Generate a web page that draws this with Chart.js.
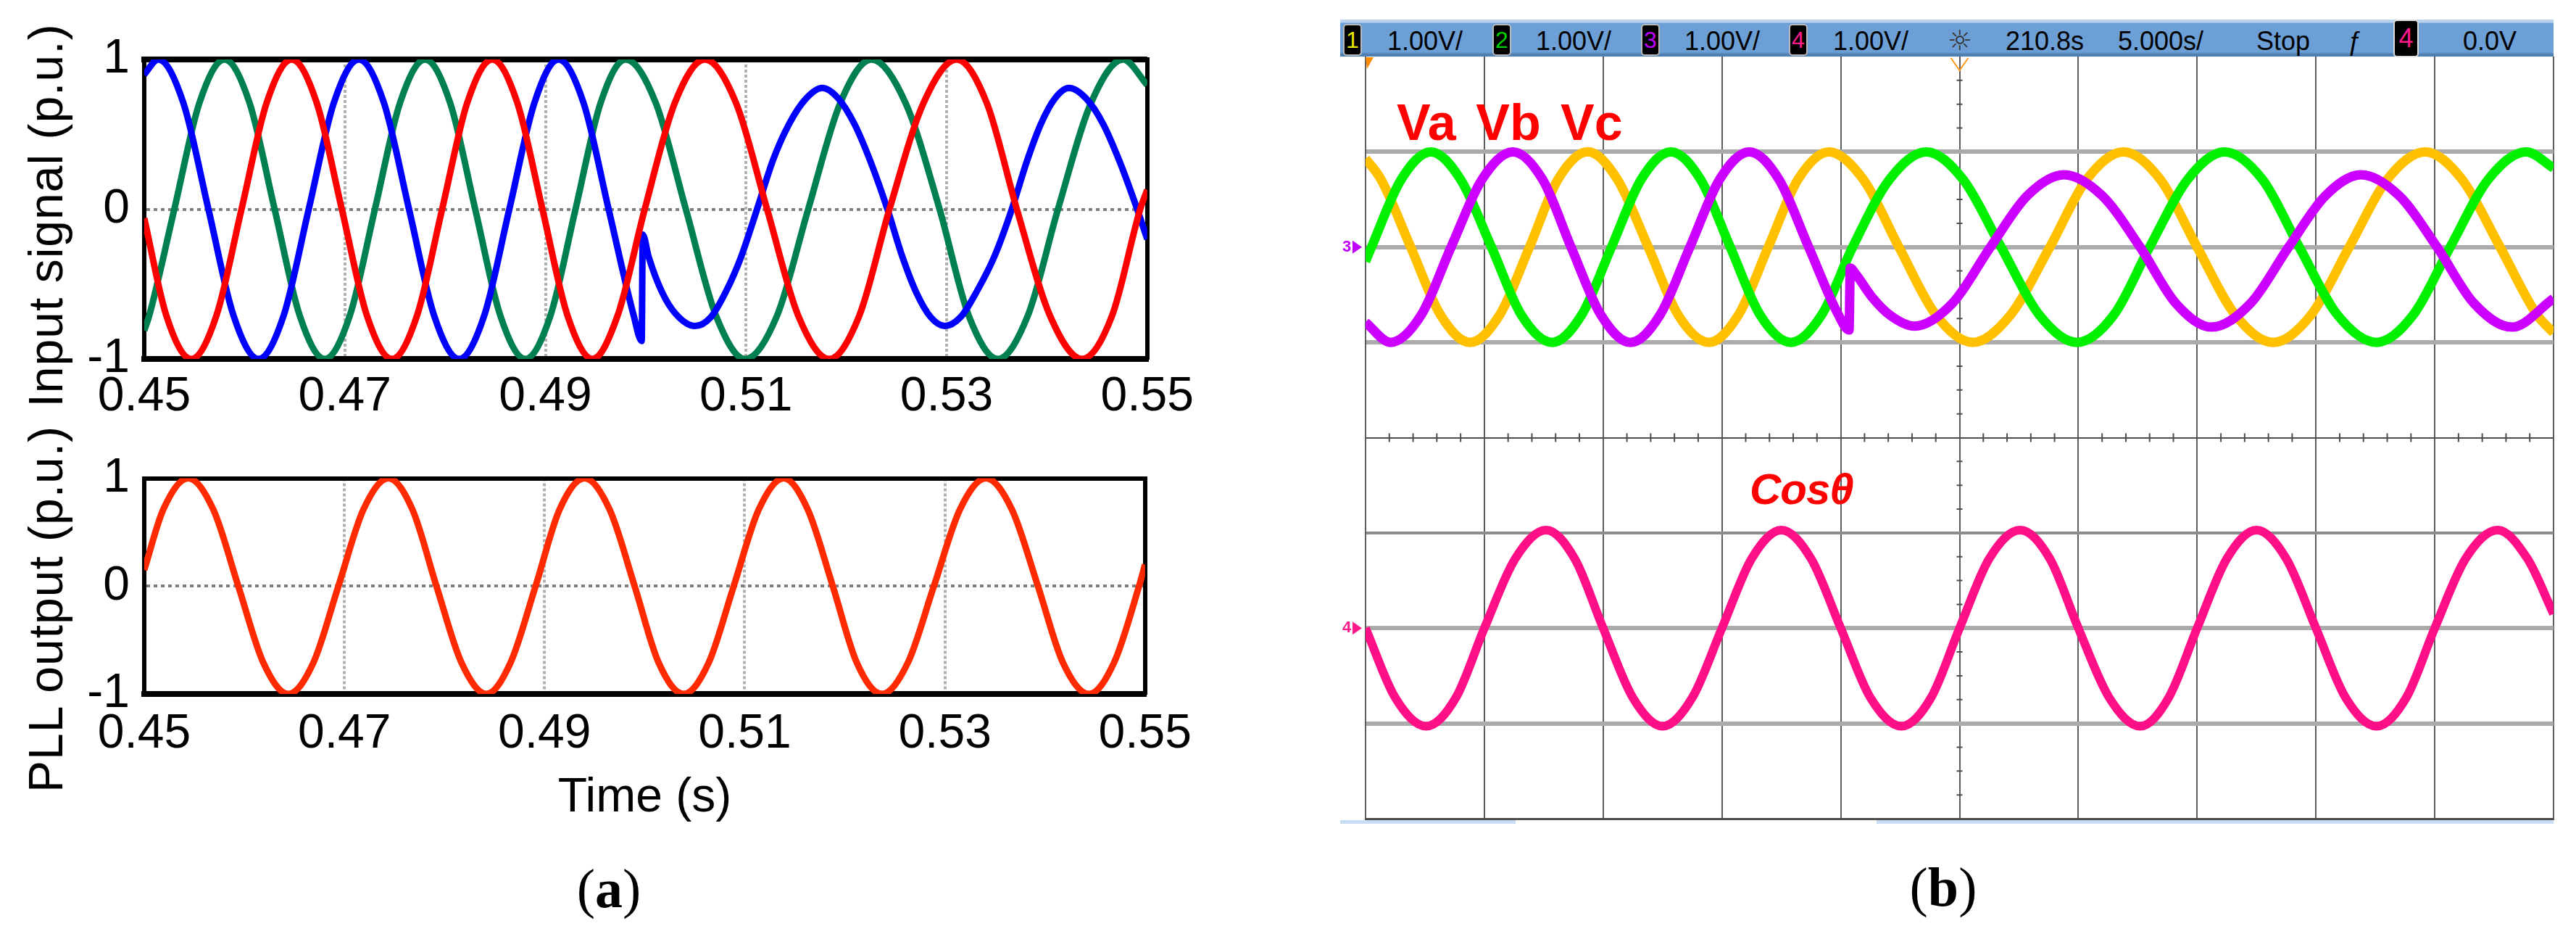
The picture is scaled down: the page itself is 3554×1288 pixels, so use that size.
<!DOCTYPE html>
<html>
<head>
<meta charset="utf-8">
<title>PLL input signal and output</title>
<script src="https://cdn.jsdelivr.net/npm/chart.js@4.4.1/dist/chart.umd.min.js"></script>
<style>
  html, body { margin: 0; padding: 0; background: #fff; }
  #page { position: relative; width: 3554px; height: 1288px; overflow: hidden; font-family: 'Liberation Sans', Arial, sans-serif; }
  #page canvas { position: absolute; }
  .ytitle { position: absolute; white-space: nowrap; font-size: 66px; letter-spacing: 1px; line-height: 1; color: #000; transform: translate(-50%, -50%) rotate(-90deg); }
  .caption { position: absolute; font-family: 'Liberation Serif', 'Times New Roman', serif; font-size: 76px; line-height: 1; color: #000; transform: translate(-50%, -50%); }
  #bar { position: absolute; left: 1849px; top: 27px; width: 1674px; height: 51px; z-index: 2;
         background: linear-gradient(to bottom, #b9d2ee 0px, #b9d2ee 4px, #6c9fd5 5px, #6c9fd5 45px, #4f7eb2 48px, #4f7eb2 51px); }
  #bar span { position: absolute; white-space: nowrap; }
  .bt { top: 4px; height: 51px; line-height: 51px; font-size: 36px; color: #000; }
  .badge { top: 6px; width: 22px; height: 40px; line-height: 40px; text-align: center; font-size: 32px; background: #000; border: 2px solid #b9b9b9; border-radius: 5px; }
  .tag { position: absolute; color: #ff0000; white-space: nowrap; line-height: 1; z-index: 3; }
  .strip { position: absolute; top: 1131px; height: 5px; background: #c7ddf3; }
</style>
</head>
<body>
<div id="page">
  <canvas id="simTop" width="1660" height="600" style="left:0;top:0"></canvas>
  <canvas id="simBottom" width="1660" height="540" style="left:0;top:600px"></canvas>
  <div class="ytitle" style="left:63px;top:297px">Input signal (p.u.)</div>
  <div class="ytitle" style="left:63px;top:840px">PLL output (p.u.)</div>
  <div class="caption" style="left:840px;top:1225px">(<b>a</b>)</div>

  <canvas id="scope" width="1705" height="1140" style="left:1849px;top:0"></canvas>
  <div id="bar">
    <span class="badge" style="left:4px;color:#e6e600">1</span>
    <span class="bt" style="left:65px">1.00V/</span>
    <span class="badge" style="left:210px;color:#00d000">2</span>
    <span class="bt" style="left:270px">1.00V/</span>
    <span class="badge" style="left:415px;color:#c000ff">3</span>
    <span class="bt" style="left:475px">1.00V/</span>
    <span class="badge" style="left:619px;color:#ff1a8c">4</span>
    <span class="bt" style="left:680px">1.00V/</span>
    <span class="bt" style="left:838px;font-family:'DejaVu Sans';font-size:38px;color:#333">☼</span>
    <span class="bt" style="left:918px">210.8s</span>
    <span class="bt" style="left:1073px">5.000s/</span>
    <span class="bt" style="left:1264px">Stop</span>
    <span class="bt" style="left:1390px">ƒ</span>
    <span class="badge" style="left:1453px;top:0;width:31px;height:48px;line-height:48px;font-size:36px;color:#ff1a8c;border-color:#dcdcdc">4</span>
    <span class="bt" style="left:1549px">0.0V</span>
  </div>
  <div class="tag" style="left:1927px;top:134px;font-size:70px;font-weight:bold;word-spacing:8px">Va Vb Vc</div>
  <div class="tag" style="left:2414px;top:645px;font-size:60px;font-weight:bold;font-style:italic;letter-spacing:-1px">Cosθ</div>
  <div class="strip" style="left:1849px;width:242px"></div>
  <div class="strip" style="left:2589px;width:934px"></div>
  <div class="caption" style="left:2681px;top:1223px">(<b>b</b>)</div>
</div>

<script>
// ---- (a) simulation: [time (s), value (p.u.)] ----
const timeTicks = [0.45, 0.47, 0.49, 0.51, 0.53, 0.55];
const timeTickLabels = ['0.45', '0.47', '0.49', '0.51', '0.53', '0.55'];
const puTicks = [-1, 0, 1];
const puTickLabels = ['-1', '0', '1'];

// blue phase (drops to 0.8 p.u. after the event at ~0.4997 s)
const inputA = [
  [0.4500, 0.90], [0.4514, 1.00], [0.4539, 0.71], [0.4564, 0.00], [0.4589, -0.71], [0.4614, -1.00],
  [0.4639, -0.71], [0.4664, 0.00], [0.4689, 0.71], [0.4714, 1.00], [0.4739, 0.71], [0.4764, 0.00],
  [0.4789, -0.71], [0.4814, -1.00], [0.4839, -0.71], [0.4864, 0.00], [0.4889, 0.71], [0.4913, 1.00],
  [0.4938, 0.71], [0.4963, 0.00], [0.4988, -0.71], [0.4996, -0.88], [0.4997, -0.17], [0.5003, -0.32],
  [0.5016, -0.55], [0.5030, -0.70], [0.5049, -0.78], [0.5065, -0.72], [0.5080, -0.55], [0.5095, -0.32],
  [0.5111, 0.00], [0.5127, 0.33], [0.5143, 0.57], [0.5160, 0.74], [0.5176, 0.81], [0.5192, 0.74],
  [0.5208, 0.57], [0.5224, 0.32], [0.5241, 0.00], [0.5256, -0.32], [0.5270, -0.56], [0.5284, -0.72],
  [0.5298, -0.78], [0.5314, -0.72], [0.5330, -0.55], [0.5348, -0.31], [0.5365, 0.00], [0.5380, 0.32],
  [0.5394, 0.57], [0.5408, 0.74], [0.5422, 0.81], [0.5439, 0.74], [0.5456, 0.57], [0.5473, 0.31],
  [0.5490, 0.00], [0.5500, -0.20]
];
// green phase
const inputB = [
  [0.4500, -0.81], [0.4505, -0.71], [0.4530, 0.00], [0.4555, 0.71], [0.4580, 1.00], [0.4605, 0.71],
  [0.4630, 0.00], [0.4655, -0.71], [0.4680, -1.00], [0.4705, -0.71], [0.4730, 0.00], [0.4755, 0.71],
  [0.4780, 1.00], [0.4805, 0.71], [0.4830, 0.00], [0.4855, -0.71], [0.4880, -1.00], [0.4905, -0.71],
  [0.4930, 0.00], [0.4955, 0.71], [0.4980, 1.00], [0.5010, 0.71], [0.5040, 0.00], [0.5070, -0.71],
  [0.5099, -1.00], [0.5131, -0.71], [0.5162, 0.00], [0.5194, 0.71], [0.5225, 1.00], [0.5259, 0.71],
  [0.5293, 0.00], [0.5322, -0.71], [0.5351, -1.00], [0.5381, -0.71], [0.5411, 0.00], [0.5444, 0.71],
  [0.5476, 1.00], [0.5500, 0.83]
];
// red phase
const inputC = [
  [0.4500, -0.06], [0.4522, -0.71], [0.4547, -1.00], [0.4572, -0.71], [0.4597, 0.00], [0.4622, 0.71],
  [0.4647, 1.00], [0.4672, 0.71], [0.4697, 0.00], [0.4722, -0.71], [0.4747, -1.00], [0.4772, -0.71],
  [0.4797, 0.00], [0.4822, 0.71], [0.4847, 1.00], [0.4872, 0.71], [0.4897, 0.00], [0.4922, -0.71],
  [0.4947, -1.00], [0.4972, -0.71], [0.4999, 0.00], [0.5029, 0.71], [0.5059, 1.00], [0.5090, 0.71],
  [0.5121, 0.00], [0.5152, -0.71], [0.5183, -1.00], [0.5213, -0.71], [0.5243, 0.00], [0.5277, 0.71],
  [0.5310, 1.00], [0.5340, 0.71], [0.5370, 0.00], [0.5403, -0.71], [0.5435, -1.00], [0.5465, -0.71],
  [0.5493, 0.00], [0.5500, 0.13]
];
// PLL output
const pllOut = [
  [0.4500, 0.15], [0.4519, 0.71], [0.4544, 1.00], [0.4569, 0.71], [0.4594, 0.00], [0.4619, -0.71],
  [0.4644, -1.00], [0.4669, -0.71], [0.4694, 0.00], [0.4719, 0.71], [0.4744, 1.00], [0.4768, 0.71],
  [0.4792, 0.00], [0.4817, -0.71], [0.4842, -1.00], [0.4866, -0.71], [0.4891, 0.00], [0.4915, 0.71],
  [0.4940, 1.00], [0.4965, 0.71], [0.4990, 0.00], [0.5014, -0.71], [0.5039, -1.00], [0.5064, -0.71],
  [0.5089, 0.00], [0.5114, 0.71], [0.5139, 1.00], [0.5163, 0.71], [0.5188, 0.00], [0.5212, -0.71],
  [0.5237, -1.00], [0.5263, -0.71], [0.5289, 0.00], [0.5315, 0.71], [0.5341, 1.00], [0.5367, 0.71],
  [0.5393, 0.00], [0.5418, -0.71], [0.5444, -1.00], [0.5469, -0.71], [0.5494, 0.00], [0.5500, 0.20]
];

// ---- (b) oscilloscope: [x (div), y (div from the channel's ground)] ----
const scopeDivX = [0, 1, 2, 3, 4, 5, 6, 7, 8, 9, 10];
const scopeDivY = [-4, -3, -2, -1, 0, 1, 2, 3, 4];
const chOffset = { ch1: 2, ch2: 2, ch3: 2, ch4: -2 };

// ch1 yellow
const ch1 = [
  [0.00, 0.93], [0.13, 0.71], [0.38, 0.00], [0.63, -0.71], [0.88, -1.00], [1.13, -0.71], [1.38, 0.00],
  [1.62, 0.71], [1.87, 1.00], [2.12, 0.71], [2.38, 0.00], [2.63, -0.71], [2.89, -1.00], [3.14, -0.71],
  [3.39, 0.00], [3.64, 0.71], [3.90, 1.00], [4.19, 0.71], [4.49, 0.00], [4.80, -0.71], [5.11, -1.00],
  [5.43, -0.71], [5.76, 0.00], [6.07, 0.71], [6.38, 1.00], [6.69, 0.71], [7.00, 0.00], [7.32, -0.71],
  [7.64, -1.00], [7.96, -0.71], [8.28, 0.00], [8.60, 0.71], [8.92, 1.00], [9.23, 0.71], [9.55, 0.00],
  [9.86, -0.71], [10.00, -0.90]
];
// ch2 green
const ch2 = [
  [0.00, -0.15], [0.05, 0.00], [0.30, 0.71], [0.55, 1.00], [0.80, 0.71], [1.06, 0.00], [1.31, -0.71],
  [1.57, -1.00], [1.82, -0.71], [2.07, 0.00], [2.32, 0.71], [2.57, 1.00], [2.82, 0.71], [3.07, 0.00],
  [3.32, -0.71], [3.58, -1.00], [3.84, -0.71], [4.10, 0.00], [4.41, 0.71], [4.72, 1.00], [5.03, 0.71],
  [5.35, 0.00], [5.67, -0.71], [5.99, -1.00], [6.30, -0.71], [6.60, 0.00], [6.92, 0.71], [7.23, 1.00],
  [7.55, 0.71], [7.86, 0.00], [8.18, -0.71], [8.51, -1.00], [8.82, -0.71], [9.13, 0.00], [9.45, 0.71],
  [9.77, 1.00], [10.00, 0.83]
];
// ch3 purple (sag and step at ~4.07 div)
const ch3 = [
  [0.00, -0.79], [0.21, -1.00], [0.47, -0.71], [0.72, 0.00], [0.98, 0.71], [1.24, 1.00], [1.49, 0.71],
  [1.73, 0.00], [1.98, -0.71], [2.23, -1.00], [2.48, -0.71], [2.73, 0.00], [2.98, 0.71], [3.23, 1.00],
  [3.48, 0.71], [3.73, 0.00], [3.98, -0.71], [4.07, -0.87], [4.08, -0.22], [4.13, -0.29], [4.26, -0.52],
  [4.42, -0.72], [4.62, -0.83], [4.94, -0.59], [5.26, 0.00], [5.57, 0.54], [5.88, 0.76], [6.20, 0.54],
  [6.52, 0.00], [6.82, -0.59], [7.12, -0.84], [7.45, -0.59], [7.77, 0.00], [8.08, 0.54], [8.38, 0.76],
  [8.70, 0.54], [9.02, 0.00], [9.33, -0.59], [9.65, -0.84], [10.00, -0.54]
];
// ch4 pink, cos(theta)
const ch4 = [
  [0.00, 0.00], [0.25, -0.73], [0.51, -1.03], [0.76, -0.73], [1.00, 0.00], [1.26, 0.73], [1.52, 1.03],
  [1.76, 0.73], [2.00, 0.00], [2.25, -0.73], [2.50, -1.03], [2.75, -0.73], [3.00, 0.00], [3.25, 0.73],
  [3.50, 1.03], [3.75, 0.73], [4.00, 0.00], [4.25, -0.73], [4.51, -1.03], [4.76, -0.73], [5.00, 0.00],
  [5.25, 0.73], [5.51, 1.03], [5.76, 0.73], [6.00, 0.00], [6.26, -0.73], [6.52, -1.03], [6.76, -0.73],
  [7.00, 0.00], [7.25, 0.73], [7.50, 1.03], [7.75, 0.73], [8.00, 0.00], [8.25, -0.73], [8.51, -1.03],
  [8.76, -0.73], [9.00, 0.00], [9.26, 0.73], [9.53, 1.03], [9.78, 0.73], [10.00, 0.15]
];

const tickFont = { family: "'Liberation Sans', Arial, sans-serif", size: 66 };
const clear = 'rgba(0,0,0,0)';

function trace(pts, color, width, off = 0) {
  return {
    data: pts.map(([x, y]) => ({ x, y: y + off })),
    borderColor: color,
    borderWidth: width,
    pointRadius: 0,
    fill: false,
    cubicInterpolationMode: 'monotone',
    xAxisID: 'x',
    yAxisID: 'y'
  };
}

function simChart(id, datasets, o) {
  return new Chart(document.getElementById(id), {
    type: 'line',
    data: { datasets },
    options: {
      responsive: false,
      animation: false,
      devicePixelRatio: 1,
      events: [],
      layout: { padding: { top: o.top, right: o.right, left: 0, bottom: 0 } },
      plugins: { legend: { display: false }, tooltip: { enabled: false } },
      scales: {
        x: {
          type: 'linear', position: 'bottom', min: 0.45, max: 0.55,
          afterBuildTicks: s => { s.ticks = timeTicks.map(value => ({ value })); },
          afterFit: s => { s.height = o.xHeight; },
          ticks: { autoSkip: false, maxRotation: 0, padding: o.tickPad, color: '#000', font: tickFont,
                   callback: (v, i) => timeTickLabels[i] },
          grid: { drawTicks: false, lineWidth: 4,
                  color: c => (c.index > 0 && c.index < timeTicks.length - 1) ? '#b0b0b0' : clear },
          border: { display: true, color: '#000', width: o.bottomBorder, dash: [4, 3] },
          title: o.xTitle ? { display: true, text: o.xTitle, color: '#000', font: tickFont, padding: 0 } : { display: false }
        },
        y: {
          type: 'linear', position: 'left', min: -1, max: 1,
          afterBuildTicks: s => { s.ticks = puTicks.map(value => ({ value })); },
          afterFit: s => { s.width = 199; },
          ticks: { padding: 20, color: '#000', font: tickFont, callback: (v, i) => puTickLabels[i] },
          grid: { drawTicks: false, lineWidth: 4, color: c => (c.tick && c.tick.value === 0) ? '#7f7f7f' : clear },
          border: { display: true, color: '#000', width: 6, dash: [5, 5] }
        },
        xTop: {
          type: 'linear', position: 'top', min: 0.45, max: 0.55,
          afterFit: s => { s.height = 0; },
          ticks: { display: false }, grid: { display: false, drawTicks: false },
          border: { display: true, color: '#000', width: o.topBorder }
        },
        yRight: {
          type: 'linear', position: 'right', min: -1, max: 1,
          afterFit: s => { s.width = 0; },
          ticks: { display: false }, grid: { display: false, drawTicks: false },
          border: { display: true, color: '#000', width: 6 }
        }
      }
    }
  });
}

simChart('simTop', [
  trace(inputC, '#ff0000', 9),
  trace(inputA, '#0000ff', 9),
  trace(inputB, '#008050', 9)
], { top: 82, right: 69, xHeight: 105, tickPad: 13, topBorder: 8, bottomBorder: 8 });

simChart('simBottom', [
  trace(pllOut, '#ff2a00', 9)
], { top: 37, right: 69, xHeight: 183, tickPad: 16, xTitle: 'Time (s)', topBorder: 6, bottomBorder: 8 });

// scope graticule: minor ticks on the centre axes, trigger and ground markers
function scopeHLine(v) {
  if (v === 0) return ['#4d4d4d', 2];
  if (v === -1) return ['#8c8c8c', 4];
  if (v === 4 || v === -4) return [clear, 0];
  return ['#ababab', 6];
}

const scopeMarks = {
  id: 'scopeMarks',
  beforeDatasetsDraw(chart) {
    const { ctx, scales: { x, y } } = chart;
    const cx = x.getPixelForValue(5), cy = y.getPixelForValue(0);
    ctx.save();
    ctx.strokeStyle = '#4d4d4d';
    ctx.lineWidth = 2;
    ctx.beginPath();
    for (let i = 1; i < 50; i++) {
      if (i % 5 === 0) continue;
      const px = x.getPixelForValue(i / 5);
      ctx.moveTo(px, cy - 6); ctx.lineTo(px, cy + 6);
    }
    for (let i = -15; i < 16; i++) {
      if (i % 4 === 0) continue;
      const py = y.getPixelForValue(i / 4);
      ctx.moveTo(cx - 4, py); ctx.lineTo(cx + 4, py);
    }
    ctx.stroke();
    ctx.restore();
  },
  afterDraw(chart) {
    const { ctx, chartArea, scales: { x, y } } = chart;
    const x0 = x.getPixelForValue(0), x5 = x.getPixelForValue(5), top = chartArea.top;
    ctx.save();
    ctx.fillStyle = '#ff8a00';
    ctx.beginPath();
    ctx.moveTo(x0, top + 1); ctx.lineTo(x0 + 11, top + 1); ctx.lineTo(x0 + 2, top + 17);
    ctx.closePath(); ctx.fill();
    ctx.strokeStyle = '#ff9a1a';
    ctx.lineWidth = 2;
    ctx.beginPath();
    ctx.moveTo(x5 - 12, top + 2); ctx.lineTo(x5, top + 19); ctx.lineTo(x5 + 12, top + 2);
    ctx.stroke();

    const marker = (val, label, color) => {
      const py = y.getPixelForValue(val);
      ctx.fillStyle = color;
      ctx.font = 'bold 22px "Liberation Sans"';
      ctx.textBaseline = 'middle';
      ctx.fillText(label, 3, py);
      ctx.beginPath();
      ctx.moveTo(17, py - 9); ctx.lineTo(30, py); ctx.lineTo(17, py + 9);
      ctx.closePath(); ctx.fill();
    };
    marker(chOffset.ch3, '3', '#c000ff');
    marker(chOffset.ch4, '4', '#ff1a8c');
    ctx.restore();
  }
};

new Chart(document.getElementById('scope'), {
  type: 'line',
  data: {
    datasets: [
      trace(ch3, '#cc00ff', 13, chOffset.ch3),
      trace(ch2, '#00f000', 13, chOffset.ch2),
      trace(ch1, '#ffc000', 13, chOffset.ch1),
      trace(ch4, '#ff0f87', 12, chOffset.ch4)
    ]
  },
  options: {
    responsive: false,
    animation: false,
    devicePixelRatio: 1,
    events: [],
    layout: { padding: { left: 35, right: 31, top: 78, bottom: 11 } },
    plugins: { legend: { display: false }, tooltip: { enabled: false } },
    scales: {
      x: {
        type: 'linear', min: 0, max: 10,
        afterBuildTicks: s => { s.ticks = scopeDivX.map(value => ({ value })); },
        afterFit: s => { s.height = 0; },
        ticks: { display: false },
        grid: { drawTicks: false, color: '#5d5d5d', lineWidth: 2 },
        border: { display: true, color: '#4d4d4d', width: 3 }
      },
      y: {
        type: 'linear', min: -4, max: 4,
        afterBuildTicks: s => { s.ticks = scopeDivY.map(value => ({ value })); },
        afterFit: s => { s.width = 0; },
        ticks: { display: false },
        grid: {
          drawTicks: false,
          color: c => c.tick ? scopeHLine(c.tick.value)[0] : clear,
          lineWidth: c => c.tick ? scopeHLine(c.tick.value)[1] : 0
        },
        border: { display: true, color: '#5d5d5d', width: 2 }
      }
    }
  },
  plugins: [scopeMarks]
});
</script>
</body>
</html>
